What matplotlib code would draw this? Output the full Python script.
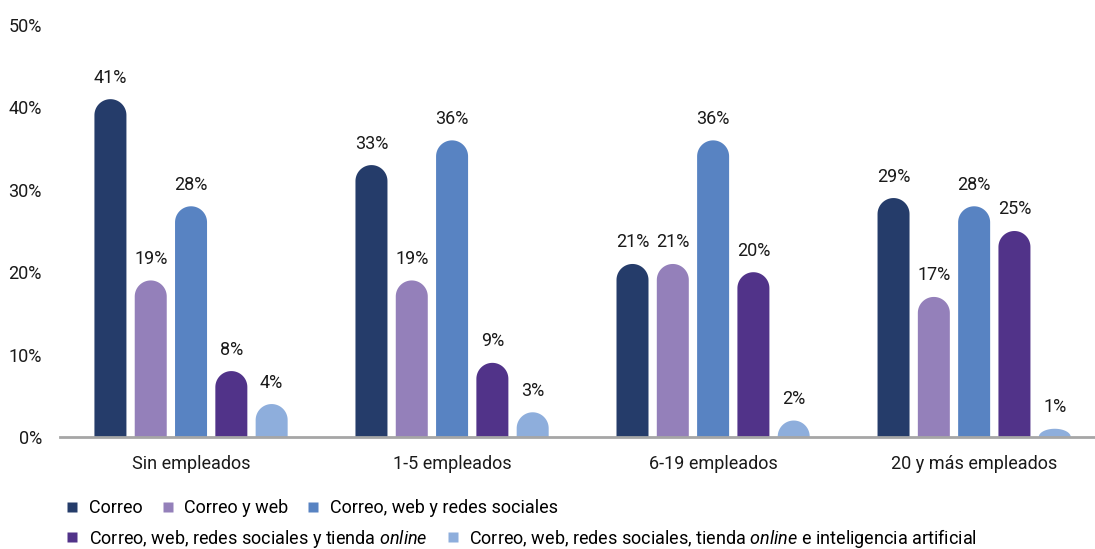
import numpy as np
import matplotlib
matplotlib.use('Agg')
import matplotlib.pyplot as plt
from matplotlib.patches import Polygon
from matplotlib.lines import Line2D

plt.rcParams['font.family'] = ['Roboto', 'DejaVu Sans']
plt.rcParams['mathtext.fontset'] = 'custom'
plt.rcParams['mathtext.rm'] = 'Roboto'
plt.rcParams['mathtext.it'] = 'Roboto:italic'

# data
categories = ['Sin empleados', '1-5 empleados', '6-19 empleados', '20 y más empleados']
series_names = ['Correo',
                'Correo y web',
                'Correo, web y redes sociales',
                r'Correo, web, redes sociales y tienda $\mathit{online}$',
                r'Correo, web, redes sociales, tienda $\mathit{online}$ e inteligencia artificial']
correo = [41, 33, 21, 29]
correo_web = [19, 19, 21, 17]
correo_web_redes = [28, 36, 36, 28]
correo_tienda = [8, 9, 20, 25]
correo_ia = [4, 3, 2, 1]
series_values = [correo, correo_web, correo_web_redes, correo_tienda, correo_ia]
colors = ['#253C6A', '#9480BA', '#5883C2', '#513389', '#8EAEDC']
y_ticks = [0, 10, 20, 30, 40, 50]

W, H = 1095, 549
fig = plt.figure(figsize=(W / 100, H / 100), dpi=100)
ax = fig.add_axes([60 / W, 1 - 437 / H, 1035 / W, 412 / H])
ax.set_xlim(-0.502, 3.463)
ax.set_ylim(0, 50)

bar_w = 0.1226
pitch = 0.1544
# pixels per data unit, so the rounded tops come out circular
px_x = 1035 / (3.463 + 0.502)
px_y = 412 / 50
r_px = bar_w / 2 * px_x
ry_full = r_px / px_y

x = np.arange(len(categories))
for i, (vals, col) in enumerate(zip(series_values, colors)):
    offs = (i - 2) * pitch
    for xc, h in zip(x + offs, vals):
        ry = min(ry_full, h)
        base = h - ry
        t = np.linspace(0, np.pi, 40)
        arc = np.column_stack([xc + bar_w / 2 * np.cos(t), base + ry * np.sin(t)])
        pts = np.vstack([[xc - bar_w / 2, 0], [xc + bar_w / 2, 0], arc])
        ax.add_patch(Polygon(pts, closed=True, facecolor=col, edgecolor='none'))
        ax.annotate(f'{h}%', (xc, h), xytext=(0, 15.5), textcoords='offset points',
                    ha='center', va='center', fontsize=13, color='#1a1a1a')

ax.set_xticks(x)
ax.set_xticklabels(categories, fontsize=13)
ax.set_yticks(y_ticks)
ax.set_yticklabels([f'{v}%' for v in y_ticks], fontsize=13)
ax.tick_params(axis='both', length=0, colors='#1a1a1a')
ax.tick_params(axis='x', pad=13)
ax.tick_params(axis='y', pad=13)
for s in ['top', 'right', 'left']:
    ax.spines[s].set_visible(False)
ax.spines['bottom'].set_color('#A6A6A6')
ax.spines['bottom'].set_linewidth(2)
ax.spines['bottom'].set_zorder(5)

handles = [Line2D([], [], marker='s', linestyle='none', markersize=7.5,
                  markerfacecolor=c, markeredgecolor='none') for c in colors]
fig.legend(handles[:3], series_names[:3], loc='center left',
           bbox_to_anchor=(58 / W, 1 - 508 / H), ncol=3, frameon=False,
           fontsize=13, handlelength=0.8, handletextpad=0.5, columnspacing=1.0,
           borderaxespad=0)
fig.legend(handles[3:], series_names[3:], loc='center left',
           bbox_to_anchor=(58 / W, 1 - 538 / H), ncol=2, frameon=False,
           fontsize=13, handlelength=0.8, handletextpad=0.5, columnspacing=1.0,
           borderaxespad=0)

fig.savefig('out.png', dpi=100)
